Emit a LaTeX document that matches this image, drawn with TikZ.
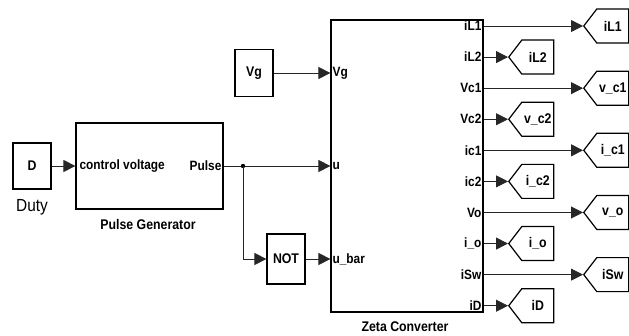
\documentclass[tikz,border=0pt]{standalone}
\usepackage{fontspec}
\setmainfont{Liberation Sans}[FakeStretch=0.88]
\usetikzlibrary{arrows.meta,shapes.symbols,positioning}

\begin{document}
\begin{tikzpicture}[
  x=1pt, y=-1pt,
  block/.style={
    draw,
    line width=1.2pt,
    inner sep=0pt,
    font=\bfseries\fontsize{14}{16}\selectfont
  },
  tag/.style={
    draw,
    line width=1.2pt,
    signal,
    signal to=west,
    signal pointer angle=105,
    minimum width=45pt,
    minimum height=34pt,
    inner sep=0pt,
    anchor=west,
    font=\bfseries\fontsize{14}{16}\selectfont
  },
  portlbl/.style={inner sep=2pt, font=\bfseries\fontsize{13.5}{15}\selectfont},
  caption/.style={inner sep=0pt, font=\bfseries\fontsize{14}{16}\selectfont},
  wire/.style={line width=0.8pt, black!85, -{Triangle[length=12pt,width=12pt]}}
]
  \useasboundingbox (0,0) rectangle (629,336);

  % source blocks
  \node[block, minimum width=38pt, minimum height=46pt] (duty) at (32,166) {D};
  \node[inner sep=0pt, font=\fontsize{17.5}{19}\selectfont] (dutylbl) at (32,207) {Duty};
  \node[block, minimum width=147pt, minimum height=86pt] (pulse) at (149.5,166) {};
  \node[portlbl, anchor=west, xshift=2pt] (pulsein) at (pulse.west) {control voltage};
  \node[portlbl, anchor=east] (pulseout) at (pulse.east) {Pulse};
  \node[caption] (pulselbl) at (148,224) {Pulse Generator};
  \node[block, minimum width=38pt, minimum height=47pt] (vg) at (254,73) {Vg};
  \node[block, minimum width=38pt, minimum height=50pt] (not) at (286,259) {NOT};

  % converter
  \node[block, minimum width=152pt, minimum height=292pt] (zeta) at (407,166) {};
  \node[caption] (zetalbl) at (405,327) {Zeta Converter};
  \node[portlbl, anchor=west] (invg) at (zeta.west |- vg) {Vg};
  \node[portlbl, anchor=west] (inu) at (zeta.west |- pulse) {u};
  \node[portlbl, anchor=west] (inubar) at (zeta.west |- not) {u\_bar};

  % input wiring
  \coordinate (split) at (243,166);
  \draw[wire] (duty) -- (pulse.west);
  \draw[wire] (pulse.east) -- (zeta.west |- pulse);
  \fill (split) circle (2.2);
  \draw[wire] (split) |- (not.west);
  \draw[wire] (not) -- (zeta.west |- not);
  \draw[wire] (vg) -- (zeta.west |- vg);

  % outputs to goto tags
  \foreach \lbl/\tg [count=\i] in {iL1/iL1, iL2/iL2, Vc1/v\_c1, Vc2/v\_c2,
      ic1/i\_c1, ic2/i\_c2, Vo/v\_o, i\_o/i\_o, iSw/iSw, iD/iD} {
    \pgfmathsetmacro\py{26+31.08*(\i-1)}
    \pgfmathsetmacro\tx{isodd(\i) ? 583 : 508}
    \coordinate (out\i) at (zeta.east |- 0,\py);
    \node[portlbl, anchor=east] (lbl\i) at (out\i) {\lbl};
    \node[tag] (tag\i) at (\tx,\py) {\tg};
    \draw[wire] (out\i) -- (tag\i.west);
  }
\end{tikzpicture}
\end{document}
